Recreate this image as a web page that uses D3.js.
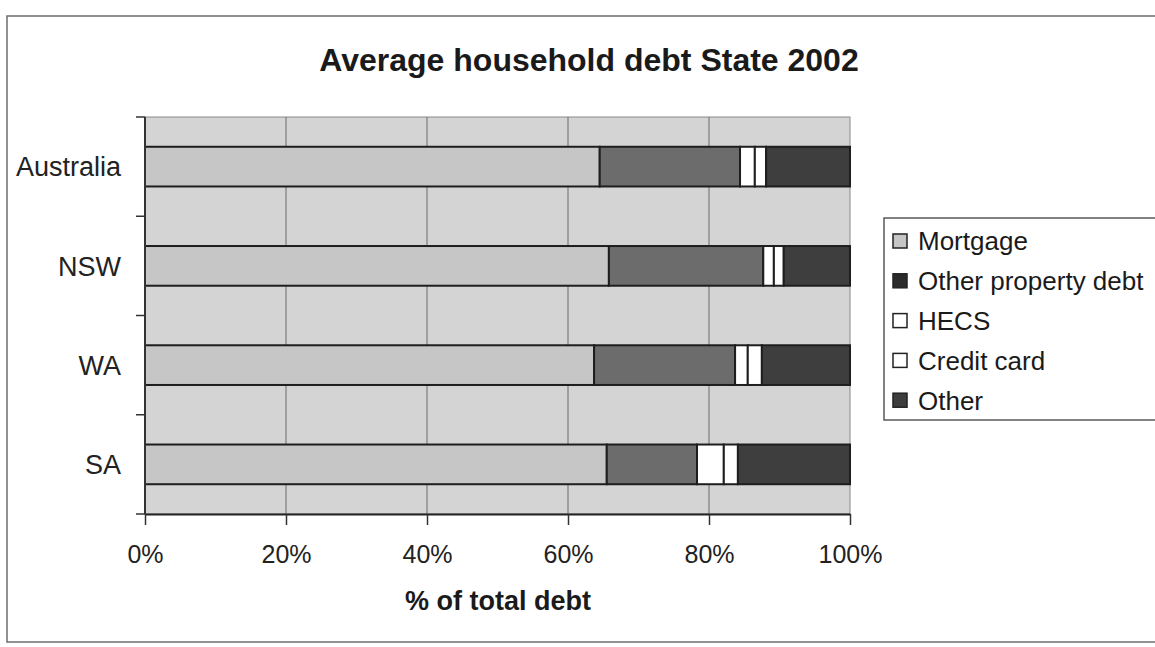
<!DOCTYPE html>
<html>
<head>
<meta charset="utf-8">
<script src="https://cdn.jsdelivr.net/npm/d3@7"></script>
<style>
  html, body { margin: 0; padding: 0; background: #fff; }
  svg { display: block; font-family: "Liberation Sans", Arial, sans-serif; }
</style>
</head>
<body>
<svg id="chart" width="1155" height="647"></svg>
<script>
// Share of average household debt by type, per state, 2002 (% of total debt)
const categories = ["Australia", "NSW", "WA", "SA"];
const seriesNames = ["Mortgage", "Other property debt", "HECS", "Credit card", "Other"];
const mortgage      = [64.5, 65.8, 63.7, 65.5];
const otherProperty = [19.9, 21.9, 20.0, 12.8];
const hecs          = [2.1, 1.5, 1.8, 3.8];
const creditCard    = [1.6, 1.4, 2.0, 2.0];
const other         = [11.9, 9.4, 12.5, 15.9];
const xTicks = [0, 20, 40, 60, 80, 100];

const seriesValues = [mortgage, otherProperty, hecs, creditCard, other];
const fills = ["#c6c6c6", "#6c6c6c", "#ffffff", "#ffffff", "#3e3e3e"];

const rows = categories.map((c, i) => {
  const r = { category: c };
  seriesNames.forEach((s, j) => { r[s] = seriesValues[j][i]; });
  return r;
});

const svg = d3.select("#chart");

// chart frame
svg.append("rect")
  .attr("x", 7).attr("y", 16)
  .attr("width", 1160).attr("height", 626)
  .attr("fill", "#fff").attr("stroke", "#6e6e6e").attr("stroke-width", 1.5);

const plot = { left: 145, right: 850, top: 117, bottom: 514 };

const x = d3.scaleLinear().domain([0, 100]).range([plot.left, plot.right]);
const y = d3.scaleBand().domain(categories)
  .range([plot.top, plot.bottom])
  .paddingInner(0.6).paddingOuter(0.3);

// plot background
svg.append("rect")
  .attr("x", plot.left).attr("y", plot.top)
  .attr("width", plot.right - plot.left).attr("height", plot.bottom - plot.top)
  .attr("fill", "#d4d4d4").attr("stroke", "#8a8a8a").attr("stroke-width", 1);

// vertical gridlines
svg.append("g").selectAll("line")
  .data(xTicks.slice(1, -1))
  .join("line")
  .attr("x1", d => x(d)).attr("x2", d => x(d))
  .attr("y1", plot.top).attr("y2", plot.bottom)
  .attr("stroke", "#6a6a6a").attr("stroke-width", 1);

// stacked bars
const stacked = d3.stack().keys(seriesNames)(rows);
svg.append("g").selectAll("g")
  .data(stacked)
  .join("g")
  .attr("fill", (d, i) => fills[i])
  .selectAll("rect")
  .data(d => d)
  .join("rect")
  .attr("x", d => x(d[0]))
  .attr("y", d => y(d.data.category))
  .attr("width", d => x(d[1]) - x(d[0]))
  .attr("height", y.bandwidth())
  .attr("stroke", "#1e1e1e")
  .attr("stroke-width", 2);

// bottom axis
const xAxis = d3.axisBottom(x)
  .tickValues(xTicks)
  .tickFormat(d => d + "%")
  .tickSizeInner(11).tickSizeOuter(0).tickPadding(20);
const gx = svg.append("g")
  .attr("transform", `translate(0,${plot.bottom})`)
  .call(xAxis);
gx.select(".domain").attr("stroke", "#222").attr("stroke-width", 2);
gx.selectAll(".tick line").attr("stroke", "#333").attr("stroke-width", 1.5);
gx.selectAll(".tick text")
  .attr("font-size", 25).attr("fill", "#222")
  .attr("font-family", "'Liberation Sans', Arial, sans-serif");

// left axis: category labels plus ticks between bands
svg.append("line")
  .attr("x1", plot.left).attr("x2", plot.left)
  .attr("y1", plot.top).attr("y2", plot.bottom)
  .attr("stroke", "#333").attr("stroke-width", 2);

const bandEdges = d3.range(categories.length + 1)
  .map(i => plot.top + i * (plot.bottom - plot.top) / categories.length);
svg.append("g").selectAll("line")
  .data(bandEdges)
  .join("line")
  .attr("x1", plot.left - 9).attr("x2", plot.left)
  .attr("y1", d => d).attr("y2", d => d)
  .attr("stroke", "#333").attr("stroke-width", 1.5);

svg.append("g").selectAll("text")
  .data(categories)
  .join("text")
  .attr("x", 121)
  .attr("y", d => y(d) + y.bandwidth() / 2)
  .attr("dy", "0.36em")
  .attr("text-anchor", "end")
  .attr("font-size", 27)
  .attr("fill", "#222")
  .text(d => d);

// title and axis title
svg.append("text")
  .attr("x", 589).attr("y", 71)
  .attr("text-anchor", "middle")
  .attr("font-size", 32).attr("font-weight", "bold").attr("fill", "#1a1a1a")
  .text("Average household debt State 2002");

svg.append("text")
  .attr("x", 498).attr("y", 610)
  .attr("text-anchor", "middle")
  .attr("font-size", 27).attr("font-weight", "bold").attr("fill", "#1a1a1a")
  .text("% of total debt");

// legend
const legend = svg.append("g");
legend.append("rect")
  .attr("x", 884).attr("y", 218)
  .attr("width", 300).attr("height", 202)
  .attr("fill", "#fff").attr("stroke", "#5a5a5a").attr("stroke-width", 1.5);

const item = legend.selectAll("g.item")
  .data(seriesNames)
  .join("g")
  .attr("class", "item")
  .attr("transform", (d, i) => `translate(893,${241 + i * 39.8})`);

item.append("rect")
  .attr("x", 0).attr("y", -7)
  .attr("width", 14).attr("height", 14)
  .attr("fill", (d, i) => i === 1 ? "#2a2a2a" : fills[i])
  .attr("stroke", "#222").attr("stroke-width", 1.5);

item.append("text")
  .attr("x", 25).attr("y", 0)
  .attr("dy", "0.36em")
  .attr("font-size", 26).attr("fill", "#1a1a1a")
  .text(d => d);
</script>
</body>
</html>
